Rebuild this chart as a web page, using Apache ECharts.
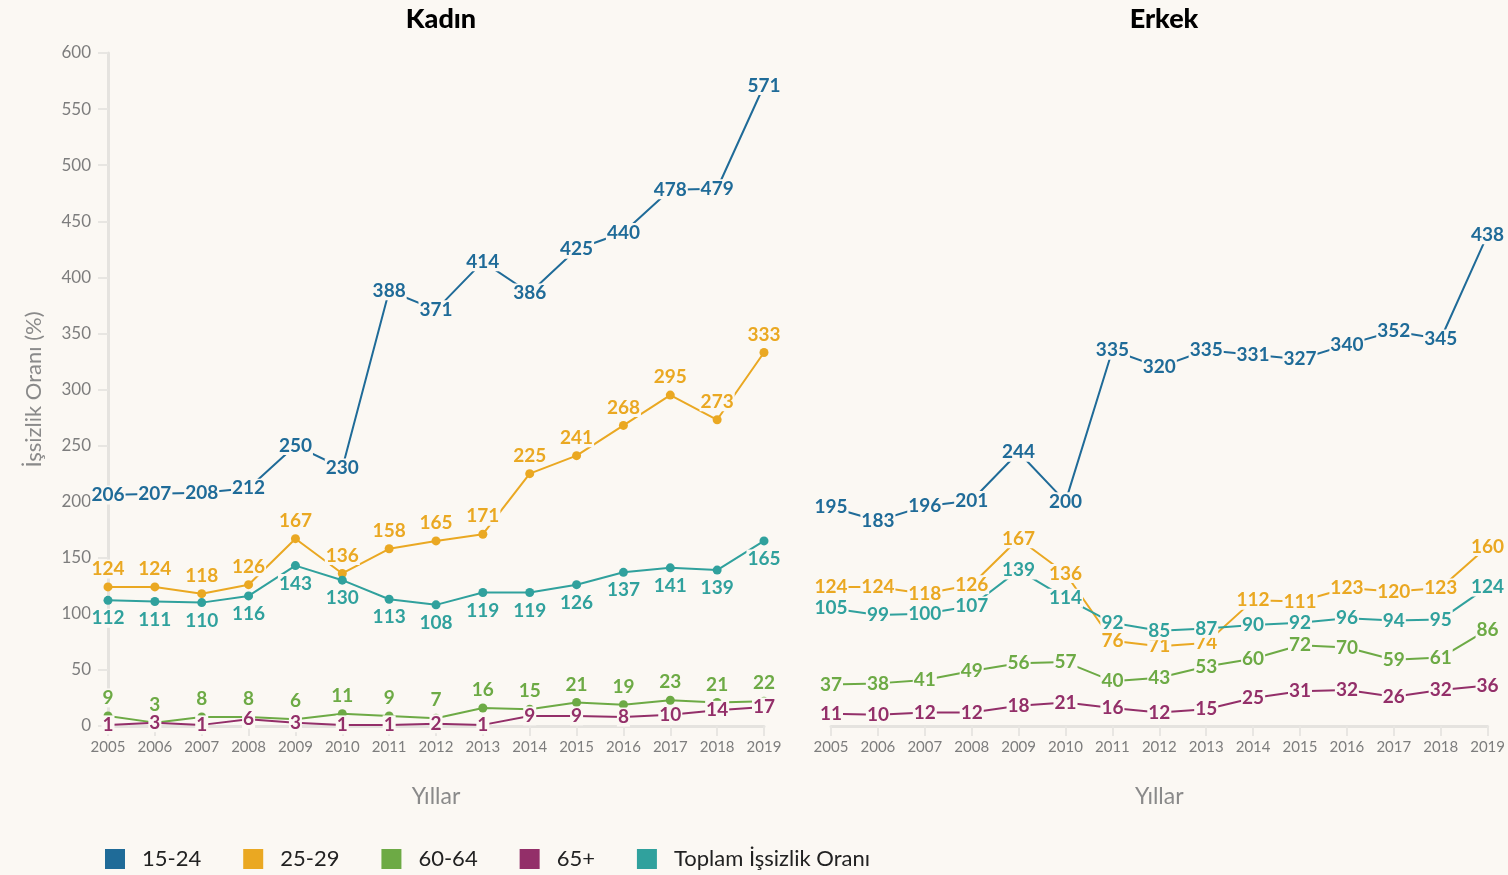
<!DOCTYPE html>
<html><head><meta charset="utf-8">
<script src="https://cdn.jsdelivr.net/npm/echarts@6/dist/echarts.min.js"></script>
<style>html,body{margin:0;padding:0;background:#fbf8f3;}#c{width:1508px;height:875px;}</style>
</head><body><div id="c"></div>
<script>
const years = ['2005','2006','2007','2008','2009','2010','2011','2012','2013','2014','2015','2016','2017','2018','2019'];
const seriesNames = ['15-24','25-29','60-64','65+','Toplam İşsizlik Oranı'];
const yTicks = [0, 600, 50];
const panelTitles = ['Kadın','Erkek'];

const kadin_15_24 = [206,207,208,212,250,230,388,371,414,386,425,440,478,479,571];
const kadin_25_29 = [124,124,118,126,167,136,158,165,171,225,241,268,295,273,333];
const kadin_60_64 = [9,3,8,8,6,11,9,7,16,15,21,19,23,21,22];
const kadin_65 = [1,3,1,6,3,1,1,2,1,9,9,8,10,14,17];
const kadin_toplam = [112,111,110,116,143,130,113,108,119,119,126,137,141,139,165];

const erkek_15_24 = [195,183,196,201,244,200,335,320,335,331,327,340,352,345,438];
const erkek_25_29 = [124,124,118,126,167,136,76,71,74,112,111,123,120,123,160];
const erkek_60_64 = [37,38,41,49,56,57,40,43,53,60,72,70,59,61,86];
const erkek_65 = [11,10,12,12,18,21,16,12,15,25,31,32,26,32,36];
const erkek_toplam = [105,99,100,107,139,114,92,85,87,90,92,96,94,95,124];

const BG = '#fbf8f3';
const colors = ['#1f6b98','#eaa822','#6daa45','#932f69','#30a19d'];
const FONT = 'Lato';

function mk(name, data, gi, color, pos, symSize) {
  return {
    name: name, type: 'line', xAxisIndex: gi, yAxisIndex: gi,
    data: data,
    symbol: 'circle', symbolSize: symSize, showSymbol: true,
    lineStyle: {color: color, width: 2}, itemStyle: {color: color},
    label: {show: true, position: pos, distance: 4, color: color, fontFamily: FONT,
      fontWeight: 'bold', fontSize: 19, backgroundColor: BG, padding: [0, 1]},
    emphasis: {disabled: true}, silent: true
  };
}

const axisLineStyle = {color: '#e5e3df', width: 3};
function xAxis(gi) {
  return {type: 'category', gridIndex: gi, data: years, boundaryGap: false,
    axisLine: {show: true, lineStyle: axisLineStyle},
    axisTick: {show: true, alignWithLabel: true, length: 10, lineStyle: {color: '#e8e6e2', width: 2}},
    axisLabel: {color: '#7d7d7d', fontFamily: FONT, fontSize: 15, margin: 14},
    name: 'Yıllar', nameLocation: 'middle', nameGap: 59,
    nameTextStyle: {color: '#8a8a8a', fontFamily: FONT, fontSize: 23},
    splitLine: {show: false}};
}
function yAxis(gi) {
  return {type: 'value', gridIndex: gi, min: yTicks[0], max: yTicks[1], interval: yTicks[2],
    show: gi === 0,
    axisLine: {show: true, lineStyle: axisLineStyle},
    axisTick: {show: true, length: 10, lineStyle: {color: '#e8e6e2', width: 2}},
    axisLabel: {color: '#7d7d7d', fontFamily: FONT, fontSize: 17, margin: 17},
    splitLine: {show: false},
    name: gi === 0 ? 'İşsizlik Oranı (%)' : '', nameLocation: 'middle', nameGap: 63,
    nameTextStyle: {color: '#8a8a8a', fontFamily: FONT, fontSize: 22}};
}

const option = {
  backgroundColor: BG,
  animation: false,
  color: colors,
  title: [
    {text: panelTitles[0], left: 436, top: 1, textAlign: 'center',
      textStyle: {fontFamily: FONT, fontWeight: 900, fontSize: 27, color: '#000'}},
    {text: panelTitles[1], left: 1159, top: 1, textAlign: 'center',
      textStyle: {fontFamily: FONT, fontWeight: 900, fontSize: 27, color: '#000'}}
  ],
  legend: {
    data: seriesNames.map(n => ({name: n, icon: 'rect'})),
    left: 105, top: 848, padding: 0, itemWidth: 20, itemHeight: 20, itemGap: 42,
    textStyle: {fontFamily: FONT, fontSize: 22, color: '#222', padding: [0, 0, 0, 12]},
    selectedMode: false
  },
  grid: [
    {left: 108, width: 656, top: 53, bottom: 149},
    {left: 831, width: 657, top: 53, bottom: 149}
  ],
  xAxis: [xAxis(0), xAxis(1)],
  yAxis: [yAxis(0), yAxis(1)],
  series: [
    mk(seriesNames[0], kadin_15_24, 0, colors[0], 'inside', 4),
    mk(seriesNames[1], kadin_25_29, 0, colors[1], 'top', 9),
    mk(seriesNames[4], kadin_toplam, 0, colors[4], 'bottom', 9),
    mk(seriesNames[2], kadin_60_64, 0, colors[2], 'top', 9),
    mk(seriesNames[3], kadin_65, 0, colors[3], 'inside', 4),
    mk(seriesNames[0], erkek_15_24, 1, colors[0], 'inside', 4),
    mk(seriesNames[1], erkek_25_29, 1, colors[1], 'inside', 4),
    mk(seriesNames[4], erkek_toplam, 1, colors[4], 'inside', 4),
    mk(seriesNames[2], erkek_60_64, 1, colors[2], 'inside', 4),
    mk(seriesNames[3], erkek_65, 1, colors[3], 'inside', 4)
  ]
};
const chart = echarts.init(document.getElementById('c'), null, {renderer: 'canvas'});
chart.setOption(option);
</script>
</body></html>
